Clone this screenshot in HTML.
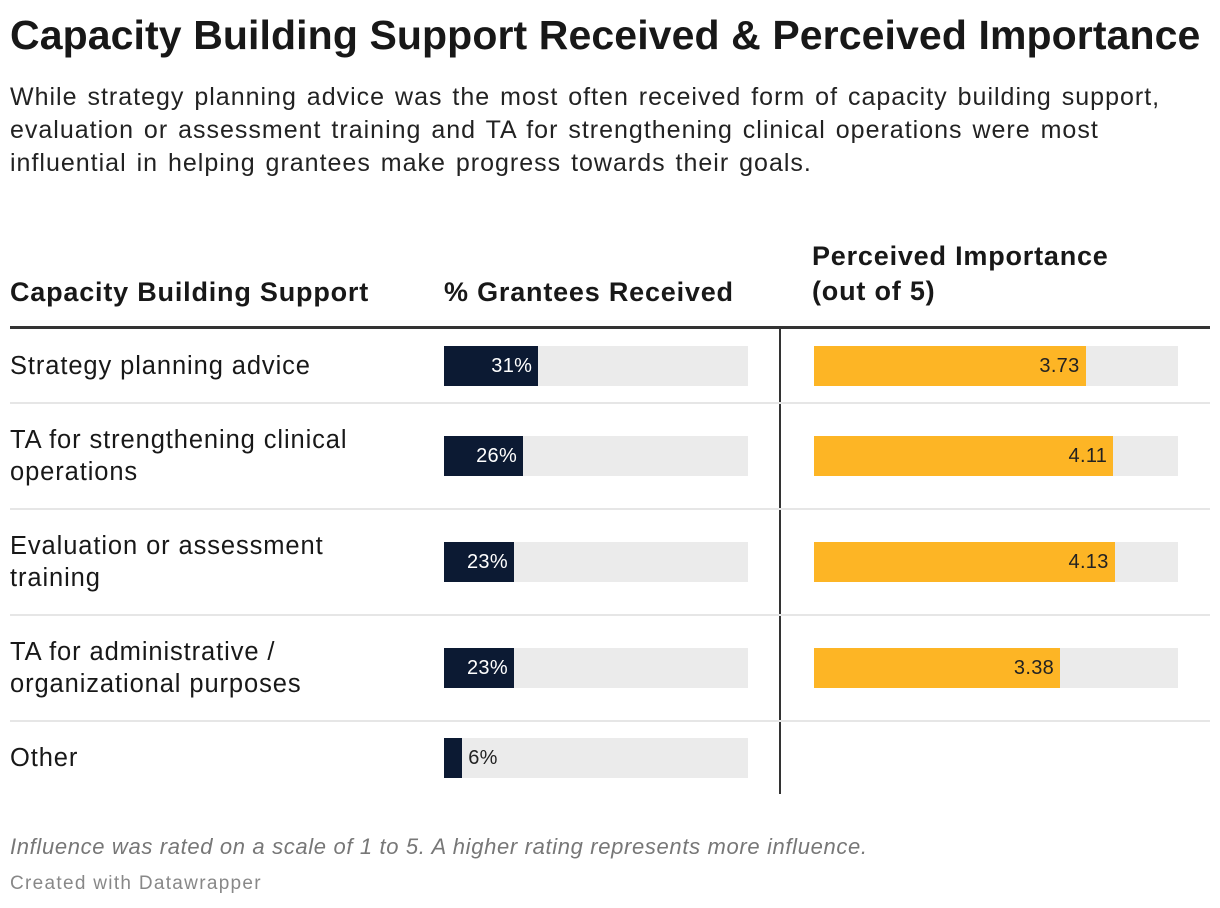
<!DOCTYPE html>
<html><head><meta charset="utf-8"><style>
body{margin:0;width:1220px;height:908px;background:#fff;font-family:"Liberation Sans",sans-serif;color:#181818;position:relative;overflow:hidden}
.abs{position:absolute}
#title{left:10px;top:12px;font-size:41px;font-weight:bold;letter-spacing:0.1px;white-space:nowrap}
#sub{left:10px;top:81px;font-size:25px;line-height:33px;letter-spacing:1px;word-spacing:2px;white-space:nowrap;color:#222}
.hd{font-size:27px;font-weight:bold;line-height:35px;letter-spacing:0.8px;white-space:nowrap}
.lbl{font-size:25.5px;line-height:32px;left:10px;letter-spacing:0.9px;white-space:nowrap}
.bg{background:#ebebeb;height:40px}
.bar{height:40px}
.val{font-size:20px;height:40px;line-height:40px;letter-spacing:0.3px}
#note{left:10px;top:834px;font-size:22px;font-style:italic;color:#777;letter-spacing:0.65px;white-space:nowrap}
#credit{left:10px;top:873px;font-size:19px;color:#888;letter-spacing:1.3px;white-space:nowrap}
</style></head><body>
<div class="abs" id="title">Capacity Building Support Received &amp; Perceived Importance</div>
<div class="abs" id="sub">While strategy planning advice was the most often received form of capacity building support,<br>evaluation or assessment training and TA for strengthening clinical operations were most<br>influential in helping grantees make progress towards their goals.</div>
<div class="abs hd" style="left:10px;top:275px">Capacity Building Support</div>
<div class="abs hd" style="left:444px;top:275px">% Grantees Received</div>
<div class="abs hd" style="left:812px;top:239px">Perceived Importance<br>(out of 5)</div>
<div class="abs" style="left:10px;top:326px;width:1200px;height:3px;background:#333"></div>
<div class="abs" style="left:779px;top:329px;width:2px;height:465px;background:#333"></div>
<div class="abs" id="note">Influence was rated on a scale of 1 to 5. A higher rating represents more influence.</div>
<div class="abs" id="credit">Created with Datawrapper</div>
<script>
const categories=["Strategy planning advice","TA for strengthening clinical<br>operations","Evaluation or assessment<br>training","TA for administrative /<br>organizational purposes","Other"];
const received=[31,26,23,23,6];
const importance=[3.73,4.11,4.13,3.38,null];
const rowCenters=[366,456,562,668,758];
const sepY=[402,508,614,720];
const recX=v=>v/100*304, impX=v=>v/5*364;
function mk(cls,st){const d=document.createElement('div');d.className='abs '+cls;Object.assign(d.style,st);document.body.appendChild(d);return d;}
sepY.forEach(y=>{const s=mk('',{left:'10px',top:y+'px',width:'1200px',height:'2px',background:'#e6e6e6'});

});
categories.forEach((c,i)=>{
 const cy=rowCenters[i], two=c.includes('<br>');
 const l=mk('lbl',{top:(cy-(two?32:16))+'px'});l.innerHTML=c;
 
 
 const top=(cy-20)+'px';
 const bg=mk('bg',{left:'444px',top,width:'304px'});
 
 
 const w=recX(received[i]);
 const b=mk('bar',{left:'444px',top,width:w+'px',background:'#0c1a33'});
 
 
 const inside=w>50;
 const v=mk('val',inside?{left:(444+w-60)+'px',width:'54px',textAlign:'right',top,color:'#fff'}:{left:(444+w+6)+'px',top,color:'#222'});
 v.textContent=received[i]+'%';
 
 
 if(importance[i]!=null){
  const bg2=mk('bg',{left:'814px',top,width:'364px'});
  
  
  const w2=impX(importance[i]);
  const b2=mk('bar',{left:'814px',top,width:w2+'px',background:'#fdb525'});
  
  
  const v2=mk('val',{left:(814+w2-66)+'px',width:'60px',textAlign:'right',top,color:'#222'});
  v2.textContent=importance[i].toFixed(2);
  
  
 }
});
</script>
</body></html>
